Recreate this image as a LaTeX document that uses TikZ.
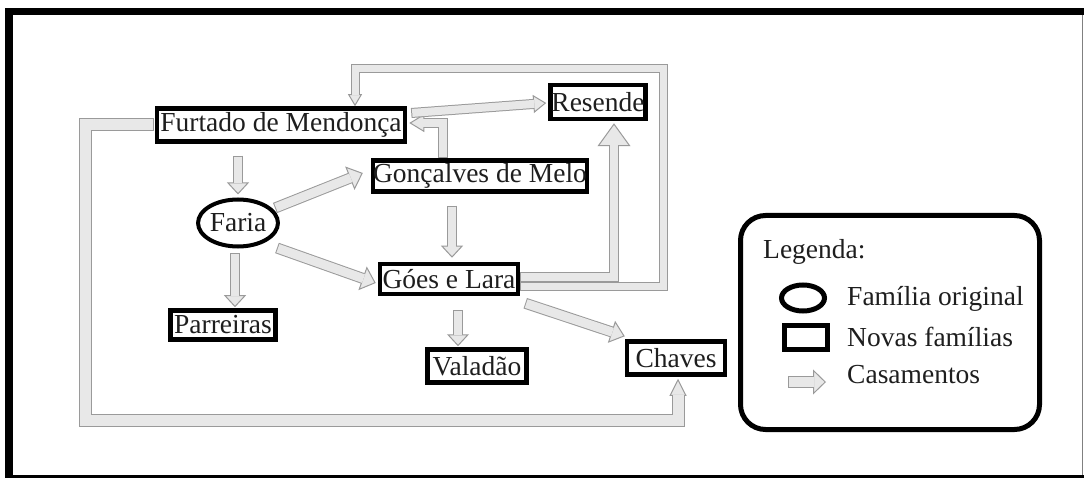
\documentclass[tikz,border=0pt]{standalone}
\usepackage{fontspec}
\setmainfont{Liberation Serif}
\usetikzlibrary{arrows.meta,shapes.geometric,calc}
\definecolor{bordc}{HTML}{9A9A9A}
\definecolor{fillc}{HTML}{E8E8E8}
\definecolor{txt}{HTML}{1E1E1E}
% #1 outer width, #2 inner width, #3 head width, #4 head length, #5 inner shorten, #6 path
\newcommand\barrow[6]{%
 \draw[line width=#1, draw=bordc, line join=miter, -{Triangle[length=#4, width=#3, line width=1pt, fill=fillc, color=bordc]}] #6;
 \draw[line width=#2, draw=fillc, line join=miter, shorten <=1pt, shorten >=#5] #6;
}
\begin{document}
\begin{tikzpicture}[x=1pt,y=-1pt,
  font=\fontsize{27.5}{30}\selectfont,
  box/.style={draw=black, line width=4.5pt, inner sep=0pt, text=txt, fill=white},
  lbl/.style={anchor=west, inner sep=0pt, text=txt}]
\useasboundingbox (0,0) rectangle (1084,478);
% outer frame
\fill[black] (5,8) rectangle (1084,15);
\fill[black] (5,8) rectangle (13,478);
\draw[black, line width=3pt] (13,476.5) -- (1084,476.5);
\draw[gray, line width=1pt] (1082.5,15) -- (1082.5,475);

% family nodes
\node[box, minimum width=248pt, minimum height=33pt] (fm) at (281,125) {Furtado de Mendonça};
\node[box, minimum width=211pt, minimum height=31pt] (gm) at (480,176) {Gonçalves de Melo};
\node[box, minimum width=95pt, minimum height=34pt] (rs) at (598,102) {Resende};
\node[box, ellipse, line width=4pt, minimum width=74pt, minimum height=47pt] (fa) at (238,223) {Faria};
\node[box, minimum width=138pt, minimum height=30pt] (ge) at (449,279) {Góes e Lara};
\node[box, minimum width=105pt, minimum height=29pt] (pa) at (223,325) {Parreiras};
\node[box, minimum width=99pt, minimum height=33pt] (va) at (477,366) {Valadão};
\node[box, minimum width=98pt, minimum height=33pt] (ch) at (676,358) {Chaves};

\coordinate (loopR) at (663,69);
\coordinate (lowL) at (85,420);
\coordinate (a4s) at ([shift={(-3pt,-5pt)}]fa.south);
\coordinate (a4e) at ([yshift=1pt]pa.north -| a4s);
\coordinate (a6s) at ([shift={(9pt,-14pt)}]ge.south);
\coordinate (a6e) at ([yshift=1pt]va.north -| a6s);

% marriages
\barrow{10pt}{8pt}{22pt}{12pt}{11pt}{([yshift=-12pt]fa.north |- fm.south) -- ([yshift=3pt]fa.north)}
\barrow{11pt}{9pt}{25pt}{14pt}{13pt}{([shift={(37pt,15pt)}]fa.center) -- ([shift={(-8pt,3pt)}]gm.west)}
\barrow{11pt}{9pt}{25pt}{14pt}{13pt}{([shift={(39pt,-25pt)}]fa.center) -- ([shift={(-2pt,-4pt)}]ge.west)}
\barrow{10pt}{8pt}{22pt}{12pt}{11pt}{(a4s) -- (a4e)}
\barrow{10pt}{8pt}{22pt}{12pt}{11pt}{([shift={(3pt,-12pt)}]gm.south -| ge.north) -- ([shift={(3pt,4pt)}]ge.north)}
\barrow{10pt}{8pt}{22pt}{12pt}{11pt}{(a6s) -- (a6e)}
\barrow{11pt}{9pt}{23pt}{14pt}{13pt}{([shift={(5pt,-7pt)}]ge.south east) -- ([yshift=3pt]ch.north west)}
\barrow{10pt}{8pt}{33pt}{23pt}{22pt}{([yshift=2pt]ge.east) -| ([shift={(16pt,-2pt)}]rs.south)}
\barrow{9pt}{7pt}{14pt}{12pt}{11pt}{([yshift=-8pt]ge.east) -| (loopR) -| ([xshift=74pt]fm.north)}
\barrow{10pt}{8pt}{18pt}{15pt}{14pt}{([xshift=-37pt]gm.north) |- ([shift={(2pt,2pt)}]fm.east)}
\barrow{10pt}{8pt}{18pt}{13pt}{12pt}{([shift={(4pt,12pt)}]fm.east) -- ([shift={(-2pt,-1pt)}]rs.west)}
\barrow{13pt}{11pt}{17pt}{17pt}{16pt}{([xshift=-1pt]fm.west) -| (lowL) -| ([shift={(2pt,-2pt)}]ch.south)}

% legend
\node[draw=black, line width=5pt, rounded corners=25pt, minimum width=299pt, minimum height=214pt, inner sep=0pt] (lg) at (890,322.5) {};
\node[lbl] (lgt) at (763,252) {Legenda:};
\node[draw=black, ellipse, line width=5pt, minimum width=43pt, minimum height=26pt, inner sep=0pt] (le) at (803,298) {};
\node[draw=black, line width=5pt, minimum width=43pt, minimum height=24pt, inner sep=0pt] (lr) at (806,337.5) {};
\coordinate (la1) at (788,382);
\coordinate (la2) at (826,382);
\barrow{12pt}{10pt}{25pt}{13pt}{12pt}{(la1) -- (la2)}
\node[lbl] (t1) at (847,299) {Família original};
\node[lbl] (t2) at (847,337) {Novas famílias};
\node[lbl] (t3) at (847,375) {Casamentos};
\end{tikzpicture}
\end{document}
